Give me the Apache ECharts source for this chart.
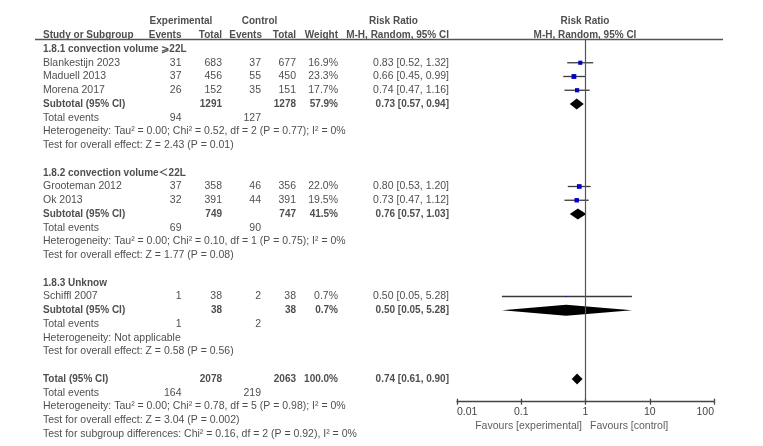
<!DOCTYPE html>
<html><head><meta charset="utf-8">
<script src="https://cdn.jsdelivr.net/npm/echarts@6/dist/echarts.min.js"></script>
<style>html,body{margin:0;padding:0;background:#fff}#c{width:763px;height:446px}</style>
</head><body><div id="c"></div>
<script>
// ---------- DATA ----------
const studies   = ['Blankestijn 2023','Maduell 2013','Morena 2017','Grooteman 2012','Ok 2013','Schiffl 2007'];
const studyGroup= [0,0,0,1,1,2];
const expEvents = [31,37,26,37,32,1];
const expTotal  = [683,456,152,358,391,38];
const ctlEvents = [37,55,35,46,44,2];
const ctlTotal  = [677,450,151,356,391,38];
const weights   = [16.9,23.3,17.7,22.0,19.5,0.7];
const rr        = [0.83,0.66,0.74,0.80,0.73,0.50];
const rrLo      = [0.52,0.45,0.47,0.53,0.47,0.05];
const rrHi      = [1.32,0.99,1.16,1.20,1.12,5.28];

const groupNames   = ['1.8.1 convection volume \u2A7E22L','1.8.2 convection volume\uFF1C22L','1.8.3 Unknow'];
const grpExpTotal  = [1291,749,38];
const grpCtlTotal  = [1278,747,38];
const grpWeight    = [57.9,41.5,0.7];
const grpRR        = [0.73,0.76,0.50];
const grpLo        = [0.57,0.57,0.05];
const grpHi        = [0.94,1.03,5.28];
const grpExpEvents = [94,69,1];
const grpCtlEvents = [127,90,2];
const grpHet = ['Heterogeneity: Tau\u00B2 = 0.00; Chi\u00B2 = 0.52, df = 2 (P = 0.77); I\u00B2 = 0%',
                'Heterogeneity: Tau\u00B2 = 0.00; Chi\u00B2 = 0.10, df = 1 (P = 0.75); I\u00B2 = 0%',
                'Heterogeneity: Not applicable'];
const grpTest = ['Test for overall effect: Z = 2.43 (P = 0.01)',
                 'Test for overall effect: Z = 1.77 (P = 0.08)',
                 'Test for overall effect: Z = 0.58 (P = 0.56)'];

const totExpTotal = 2078, totCtlTotal = 2063, totWeight = 100.0;
const totRR = 0.74, totLo = 0.61, totHi = 0.90;
const totExpEvents = 164, totCtlEvents = 219;
const totHet  = 'Heterogeneity: Tau\u00B2 = 0.00; Chi\u00B2 = 0.78, df = 5 (P = 0.98); I\u00B2 = 0%';
const totTest = 'Test for overall effect: Z = 3.04 (P = 0.002)';
const subDiff = 'Test for subgroup differences: Chi\u00B2 = 0.16, df = 2 (P = 0.92), I\u00B2 = 0%';

const tickValues = [0.01,0.1,1,10,100];
const tickLabels = ['0.01','0.1','1','10','100'];
const favLeft = 'Favours [experimental]';
const favRight = 'Favours [control]';

// ---------- LAYOUT ----------
const FONT = 'Arial, "Liberation Sans", "Noto Sans CJK SC", sans-serif';
const TXT = '#222';
const FS = 10.5, FSB = 10;
const col = {label:43, expEv:181.5, expTot:222, ctlEv:261, ctlTot:296, weight:338, ci:449, plot:585};

const texts = [];
function T(x,row,s,align,bold){ texts.push({value:[x,row], t:s, label:{align:align, fontWeight: bold?'bold':'normal', fontSize: bold?FSB:FS}}); }
const ciStr = (r,l,h)=> r.toFixed(2)+' ['+l.toFixed(2)+', '+h.toFixed(2)+']';
const pct = w => w.toFixed(1)+'%';

// header
T(181,-2,'Experimental','center',true);
T(259.5,-2,'Control','center',true);
T(393.5,-2,'Risk Ratio','center',true);
T(col.plot,-2,'Risk Ratio','center',true);
T(col.label,-1,'Study or Subgroup','left',true);
T(col.expEv,-1,'Events','right',true);
T(col.expTot,-1,'Total','right',true);
T(col.ctlEv+1,-1,'Events','right',true);
T(col.ctlTot,-1,'Total','right',true);
T(col.weight,-1,'Weight','right',true);
T(col.ci,-1,'M-H, Random, 95% CI','right',true);
T(col.plot,-1,'M-H, Random, 95% CI','center',true);

const studyData = [], diamondData = [];
let row = 0;
for (let g=0; g<groupNames.length; g++){
  T(col.label,row,groupNames[g],'left',true); row++;
  for (let i=0;i<studies.length;i++){ if (studyGroup[i]!==g) continue;
    T(col.label,row,studies[i],'left');
    T(col.expEv,row,String(expEvents[i]),'right');
    T(col.expTot,row,String(expTotal[i]),'right');
    T(col.ctlEv,row,String(ctlEvents[i]),'right');
    T(col.ctlTot,row,String(ctlTotal[i]),'right');
    T(col.weight,row,pct(weights[i]),'right');
    T(col.ci,row,ciStr(rr[i],rrLo[i],rrHi[i]),'right');
    studyData.push([rr[i],row,rrLo[i],rrHi[i],weights[i]]);
    row++;
  }
  T(col.label,row,'Subtotal (95% CI)','left',true);
  T(col.expTot,row,String(grpExpTotal[g]),'right',true);
  T(col.ctlTot,row,String(grpCtlTotal[g]),'right',true);
  T(col.weight,row,pct(grpWeight[g]),'right',true);
  T(col.ci,row,ciStr(grpRR[g],grpLo[g],grpHi[g]),'right',true);
  diamondData.push([grpRR[g],row,grpLo[g],grpHi[g]]);
  row++;
  T(col.label,row,'Total events','left');
  T(col.expEv,row,String(grpExpEvents[g]),'right');
  T(col.ctlEv,row,String(grpCtlEvents[g]),'right'); row++;
  T(col.label,row,grpHet[g],'left'); row++;
  T(col.label,row,grpTest[g],'left'); row++;
  row++;
}
T(col.label,row,'Total (95% CI)','left',true);
T(col.expTot,row,String(totExpTotal),'right',true);
T(col.ctlTot,row,String(totCtlTotal),'right',true);
T(col.weight,row,pct(totWeight),'right',true);
T(col.ci,row,ciStr(totRR,totLo,totHi),'right',true);
diamondData.push([totRR,row,totLo,totHi]);
row++;
T(col.label,row,'Total events','left');
T(col.expEv,row,String(totExpEvents),'right');
T(col.ctlEv,row,String(totCtlEvents),'right'); row++;
T(col.label,row,totHet,'left'); row++;
T(col.label,row,totTest,'left'); row++;
T(col.label,row,subDiff,'left');
T(582,27.42,favLeft,'right'); T(590,27.42,favRight,'left');
texts.forEach(d=>{ if (d.value[1]===27.42) d.label.color='#333'; });

// ---------- CHART ----------
const chart = echarts.init(document.getElementById('c'), null, {renderer:'canvas'});
const axisStyle = {color:'#444', width:1.3};
const logAxisBase = {type:'log', logBase:10, min:0.01, max:100, splitLine:{show:false}};
chart.setOption({
  animation:false,
  backgroundColor:'#fff',
  textStyle:{fontFamily:FONT},
  grid:[
    {left:457, right:49, top:39.375, bottom:44.3, containLabel:false},
    {left:0, right:0, top:11.875, bottom:2.375, containLabel:false},
    {left:457, right:49, top:39.375, bottom:44.3, containLabel:false}
  ],
  xAxis:[
    Object.assign({}, logAxisBase, {gridIndex:0, position:'bottom',
      axisLine:{show:true, onZero:false, lineStyle:axisStyle},
      axisTick:{show:true, length:3, inside:false, lineStyle:axisStyle},
      axisLabel:{show:true, color:'#444', fontSize:10.5, fontFamily:FONT, margin:5,
        alignMinLabel:'left', alignMaxLabel:'right',
        formatter: v => { let best=0; tickValues.forEach((t,i)=>{ if (Math.abs(Math.log10(t)-Math.log10(v)) < Math.abs(Math.log10(tickValues[best])-Math.log10(v))) best=i; }); return tickLabels[best]; }
      }}),
    Object.assign({}, logAxisBase, {gridIndex:2, position:'bottom',
      axisLine:{show:false, onZero:false}, axisTick:{show:true, length:3, inside:true, lineStyle:axisStyle},
      axisLabel:{show:false}}),
    {type:'value', gridIndex:1, min:0, max:763, show:false}
  ],
  yAxis:[
    {type:'value', gridIndex:0, min:-0.7, max:25.65, inverse:true, show:false},
    {type:'value', gridIndex:1, min:-2.7, max:28.7, inverse:true, show:false},
    {type:'value', gridIndex:2, min:-0.7, max:25.65, inverse:true, show:false}
  ],
  series:[
    { type:'line', xAxisIndex:0, yAxisIndex:0, symbol:'none', silent:true,
      data:[[1,-0.7],[1,25.65]], lineStyle:{color:'#555', width:1.2}},
    { type:'line', xAxisIndex:2, yAxisIndex:1, symbol:'none', silent:true,
      data:[[35,-0.69],[723,-0.69]], lineStyle:{color:'#555', width:1.5}},
    { type:'custom', xAxisIndex:0, yAxisIndex:0, silent:true, clip:false,
      data: studyData, encode:{x:[0,2,3], y:1},
      renderItem:(p,api)=>{
        const y = api.value(1);
        const c = api.coord([api.value(0),y]);
        const l = api.coord([api.value(2),y]);
        const h = api.coord([api.value(3),y]);
        const s = Math.max(1.2, 10*Math.sqrt(api.value(4)/100));
        return {type:'group', children:[
          {type:'line', shape:{x1:l[0],y1:l[1],x2:h[0],y2:h[1]}, style:{stroke:'#3a3a3a', lineWidth:1.3}},
          {type:'rect', shape:{x:c[0]-s/2,y:c[1]-s/2,width:s,height:s}, style:{fill:'#0000cc'}}
        ]};
      }},
    { type:'custom', xAxisIndex:0, yAxisIndex:0, silent:true, clip:false,
      data: diamondData, encode:{x:[0,2,3], y:1},
      renderItem:(p,api)=>{
        const y = api.value(1);
        const c = api.coord([api.value(0),y]);
        const l = api.coord([api.value(2),y]);
        const h = api.coord([api.value(3),y]);
        const hh = 5.5;
        return {type:'polygon', shape:{points:[[l[0],c[1]],[c[0],c[1]-hh],[h[0],c[1]],[c[0],c[1]+hh]]}, style:{fill:'#000'}};
      }},
    { type:'scatter', xAxisIndex:2, yAxisIndex:1, silent:true, clip:false,
      symbolSize:1, itemStyle:{color:'rgba(0,0,0,0)'},
      data: texts,
      label:{show:true, position:'inside', verticalAlign:'middle', color:TXT, fontSize:FS, fontFamily:FONT,
        formatter: p => p.data.t }
    }
  ]
});
</script>
</body></html>
